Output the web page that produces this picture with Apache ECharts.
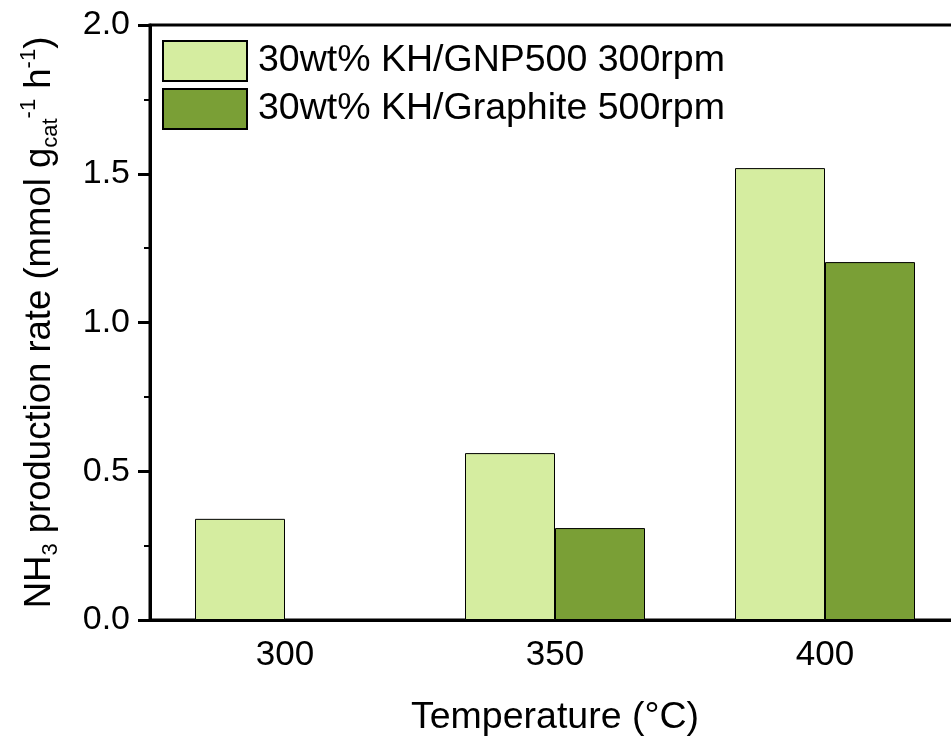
<!DOCTYPE html>
<html>
<head>
<meta charset="utf-8">
<script src="https://cdn.jsdelivr.net/npm/echarts@6/dist/echarts.min.js"></script>
<style>
  html, body { margin: 0; padding: 0; background: #fff; }
  #chart { width: 951px; height: 739px; }
</style>
</head>
<body>
<div id="chart"></div>
<script>
// temperatures (°C)
const temps = ['300', '350', '400']
// NH3 production rate, mmol g_cat^-1 h^-1
const gnpRates = [0.34, 0.561, 1.519]
const graphiteRates = [null, 0.309, 1.203]
const seriesNames = ['30wt% KH/GNP500 300rpm', '30wt% KH/Graphite 500rpm']

const font = 'Liberation Sans, Arial, sans-serif'
const chart = echarts.init(document.getElementById('chart'))

const option = {
  animation: false,
  textStyle: { fontFamily: font, color: '#000' },
  grid: {
    left: 150,
    right: -9,
    top: 25,
    bottom: 119,
    outerBoundsMode: 'none',
    containLabel: false,
    show: true,
    borderColor: '#000',
    borderWidth: 3
  },
  legend: {
    left: 162,
    top: 40,
    padding: 0,
    orient: 'vertical',
    itemWidth: 84,
    itemHeight: 40,
    itemGap: 6,
    icon: 'rect',
    textStyle: { fontSize: 37.5, fontFamily: font, color: '#000', padding: [0, 0, 0, 6] },
    data: seriesNames
  },
  xAxis: {
    type: 'category',
    data: temps,
    name: 'Temperature (°C)',
    nameLocation: 'middle',
    nameGap: 79,
    nameTextStyle: { fontSize: 37.5, fontFamily: font, color: '#000' },
    axisLine: { lineStyle: { color: '#000', width: 3 } },
    axisTick: { alignWithLabel: true, length: 12, lineStyle: { width: 3 } },
    axisLabel: { fontSize: 35, color: '#000', margin: 18, fontFamily: font }
  },
  yAxis: {
    type: 'value',
    min: 0,
    max: 2,
    interval: 0.5,
    name: '{n|NH}{sub|3}{n| production rate (mmol g}{sub|cat}{sup|-1}{n| h}{sup|-1}{n|)}',
    nameLocation: 'middle',
    nameGap: 88,
    nameTextStyle: {
      fontFamily: font,
      color: '#000',
      rich: {
        n: { fontSize: 36.5, fontFamily: font, lineHeight: 44, verticalAlign: 'middle' },
        sub: { fontSize: 22, fontFamily: font, lineHeight: 44, verticalAlign: 'bottom' },
        sup: { fontSize: 22, fontFamily: font, lineHeight: 44, verticalAlign: 'top' }
      }
    },
    axisLine: { show: true, lineStyle: { color: '#000', width: 3 } },
    axisTick: { show: true, length: 12, lineStyle: { width: 3 } },
    minorTick: { show: true, splitNumber: 2, length: 6, lineStyle: { color: '#000', width: 2 } },
    splitLine: { show: false },
    axisLabel: {
      fontSize: 34,
      color: '#000',
      margin: 20,
      fontFamily: font,
      formatter: v => v.toFixed(1)
    }
  },
  series: [
    {
      name: seriesNames[0],
      type: 'bar',
      data: gnpRates,
      barWidth: 90,
      barGap: '0%',
      itemStyle: { color: '#d5eda0', borderColor: '#000', borderWidth: 1 }
    },
    {
      name: seriesNames[1],
      type: 'bar',
      data: graphiteRates,
      barWidth: 90,
      barGap: '0%',
      itemStyle: { color: '#7a9f36', borderColor: '#000', borderWidth: 1 }
    }
  ]
}

chart.setOption(option)
</script>
</body>
</html>
